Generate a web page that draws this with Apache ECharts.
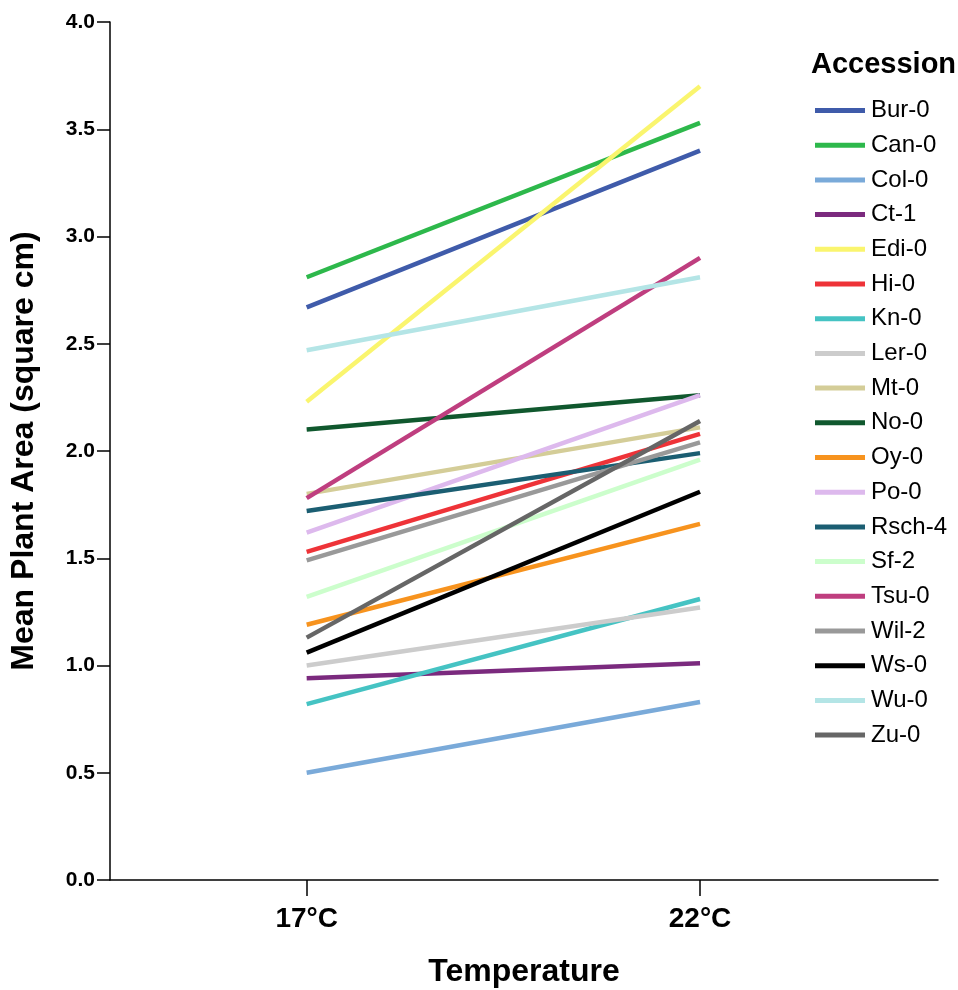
<!DOCTYPE html>
<html>
<head>
<meta charset="utf-8">
<script src="https://cdn.jsdelivr.net/npm/echarts@6/dist/echarts.min.js"></script>
<style>
  html, body { margin: 0; padding: 0; background: #fff; }
  #chart { width: 958px; height: 990px; }
</style>
</head>
<body>
<div id="chart"></div>
<script>
// Temperature groups on the x axis (positions 0 and 1)
const temperatures = ['17°C', '22°C'];

// Accessions, in legend order
const accessions = ['Bur-0', 'Can-0', 'Col-0', 'Ct-1', 'Edi-0', 'Hi-0', 'Kn-0', 'Ler-0', 'Mt-0',
  'No-0', 'Oy-0', 'Po-0', 'Rsch-4', 'Sf-2', 'Tsu-0', 'Wil-2', 'Ws-0', 'Wu-0', 'Zu-0'];

// Mean plant area (square cm) at 17°C and 22°C
const area17 = [2.67, 2.81, 0.50, 0.94, 2.23, 1.53, 0.82, 1.00, 1.80,
  2.10, 1.19, 1.62, 1.72, 1.32, 1.78, 1.49, 1.06, 2.47, 1.13];
const area22 = [3.40, 3.53, 0.83, 1.01, 3.70, 2.08, 1.31, 1.27, 2.11,
  2.26, 1.66, 2.26, 1.99, 1.96, 2.90, 2.04, 1.81, 2.81, 2.14];

const lineColors = ['#3F5BAA', '#2DB84B', '#7AAAD9', '#7B2A7E', '#FAF56E', '#EE3338', '#45C3C3',
  '#CCCCCC', '#D4CD98', '#10582E', '#F7931E', '#DDB9ED', '#1B5E72', '#CCFECC', '#BF3E7F',
  '#999999', '#000000', '#B4E5E6', '#666666'];

const yTicks = [0, 0.5, 1.0, 1.5, 2.0, 2.5, 3.0, 3.5, 4.0];

const FONT = '"Liberation Sans", Arial, sans-serif';

const chart = echarts.init(document.getElementById('chart'), null, { renderer: 'canvas' });

const series = accessions.map((name, i) => ({
  name: name,
  type: 'line',
  symbol: 'none',
  data: [[0, area17[i]], [1, area22[i]]],
  lineStyle: { color: lineColors[i], width: 4.5 },
  itemStyle: { color: lineColors[i] },
  emphasis: { disabled: true },
  animation: false
}));

chart.setOption({
  backgroundColor: '#ffffff',
  animation: false,
  textStyle: { fontFamily: FONT },
  title: {
    text: 'Accession',
    left: 811,
    top: 50,
    padding: 0,
    textStyle: { fontFamily: FONT, fontSize: 29, fontWeight: 'bold', color: '#000' }
  },
  legend: {
    orient: 'vertical',
    left: 815,
    top: 96,
    padding: 0,
    itemWidth: 50,
    itemHeight: 5,
    itemGap: 5.7,
    icon: 'rect',
    selectedMode: false,
    textStyle: { fontFamily: FONT, fontSize: 24, color: '#000', lineHeight: 20, padding: [9, 0, 0, 1] },
    data: accessions
  },
  grid: { left: 110, right: 20, top: 22, bottom: 110, containLabel: false, outerBoundsMode: 'none' },
  xAxis: {
    type: 'value',
    min: -0.5,
    max: 1.605,
    name: 'Temperature',
    nameLocation: 'middle',
    nameGap: 76,
    nameTextStyle: { fontFamily: FONT, fontSize: 32, fontWeight: 'bold', color: '#000' },
    splitLine: { show: false },
    axisLine: { show: true, onZero: false, lineStyle: { color: '#000', width: 1.5 } },
    axisTick: { show: true, customValues: [0, 1], length: 16, lineStyle: { color: '#000', width: 1.5 } },
    axisLabel: {
      customValues: [0, 1],
      margin: 25,
      fontFamily: FONT, fontSize: 28, fontWeight: 'bold', color: '#000',
      formatter: v => temperatures[Math.round(v)]
    }
  },
  yAxis: {
    type: 'value',
    min: 0,
    max: 4,
    interval: 0.5,
    name: 'Mean Plant Area (square cm)',
    nameLocation: 'middle',
    nameGap: 70,
    nameTextStyle: { fontFamily: FONT, fontSize: 32, fontWeight: 'bold', color: '#000' },
    splitLine: { show: false },
    axisLine: { show: true, onZero: false, lineStyle: { color: '#000', width: 1.5 } },
    axisTick: { show: true, length: 13, lineStyle: { color: '#000', width: 1.5 } },
    axisLabel: {
      customValues: yTicks,
      margin: 15,
      fontFamily: FONT, fontSize: 21, fontWeight: 'bold', color: '#000',
      formatter: v => v.toFixed(1)
    }
  },
  series: series
});
</script>
</body>
</html>
